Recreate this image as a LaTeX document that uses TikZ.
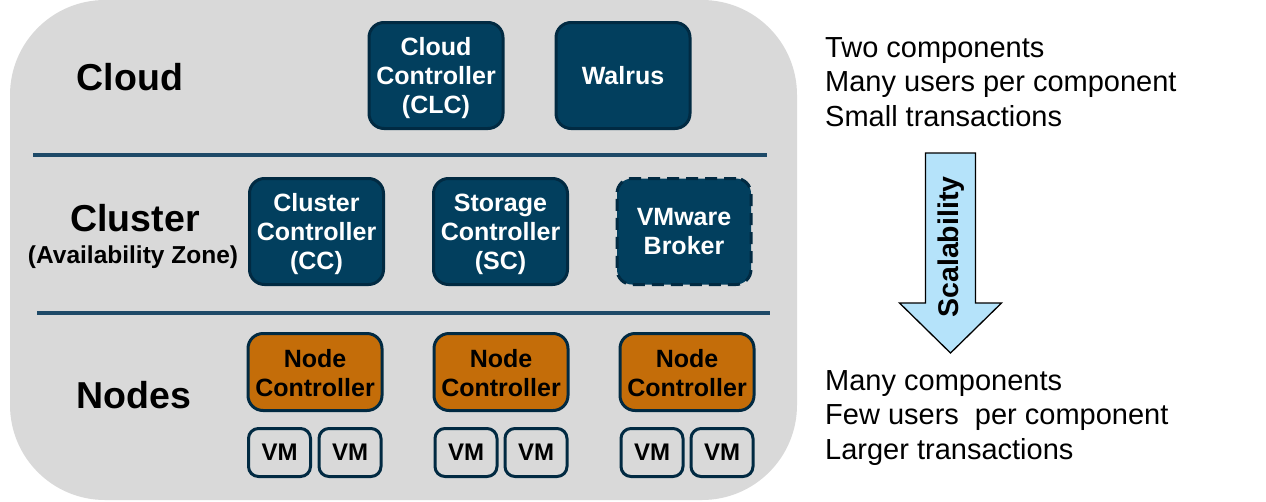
\documentclass[tikz,border=0pt]{standalone}
\usepackage{fontspec}
\setmainfont{Liberation Sans}
\definecolor{bg}{HTML}{D9D9D9}
\definecolor{boxfill}{HTML}{023F5E}
\definecolor{boxline}{HTML}{012A42}
\definecolor{divider}{HTML}{1E4A68}
\definecolor{ncfill}{HTML}{C46D09}
\definecolor{arrowfill}{HTML}{B5E3FA}
\newcommand{\padtop}[1]{\rule{0pt}{#1}}
\tikzset{
  comp/.style={draw=boxline, fill=boxfill, line width=3pt, rounded corners=15pt,
    minimum width=134pt, minimum height=106pt, inner sep=0pt, align=center,
    text=white, font=\fontsize{25}{29}\selectfont\bfseries},
  ncbox/.style={comp, fill=ncfill, text=black, minimum height=77pt},
  vmbox/.style={draw=boxline, fill=bg, line width=3pt, rounded corners=10pt,
    minimum width=62pt, minimum height=48pt, inner sep=0pt,
    font=\fontsize{24}{29}\selectfont\bfseries},
  tier/.style={font=\fontsize{37.5}{40}\selectfont\bfseries, anchor=base},
  note/.style={font=\fontsize{29}{32}\selectfont, anchor=base west, inner sep=0pt},
  divline/.style={draw=divider, line width=3.5pt}
}
\begin{document}
\begin{tikzpicture}[x=1pt,y=-1pt]
\useasboundingbox (0,0) rectangle (1266,501);
\fill[bg, rounded corners=95pt] (10,0) rectangle (797,500);
% tier labels
\node[tier] (lcloud) at (130,90) {Cloud};
\node[tier] (lcluster) at (135,231) {Cluster};
\node[font=\fontsize{24.5}{28}\selectfont\bfseries, anchor=base] (laz) at (133,263) {(Availability Zone)};
\node[tier] (lnodes) at (134,408) {Nodes};
% dividers
\coordinate (d1a) at (33,155); \coordinate (d1b) at (767,155);
\coordinate (d2a) at (37,313); \coordinate (d2b) at (770,313);
\draw[divline] (d1a) -- (d1b);
\draw[divline] (d2a) -- (d2b);
% cloud tier
\node[comp] (clc) at (436,75.5) {\padtop{24pt}Cloud\\Controller\\(CLC)};
\node[comp] (walrus) at (623,75.5) {Walrus};
% cluster tier
\node[comp] (cc) at (316.5,231.5) {\padtop{24pt}Cluster\\Controller\\(CC)};
\node[comp] (sc) at (500.5,231.5) {\padtop{24pt}Storage\\Controller\\(SC)};
\node[comp, dashed, dash pattern=on 12pt off 7pt] (vmb) at (684,231.5) {VMware\\Broker};
% nodes tier
\node[ncbox] (nc1) at (315,372) {\padtop{21pt}Node\\Controller};
\node[ncbox] (nc2) at (501,372) {\padtop{21pt}Node\\Controller};
\node[ncbox] (nc3) at (687,372) {\padtop{21pt}Node\\Controller};
\node[vmbox] (vm1) at (279.5,452.5) {VM};
\node[vmbox] (vm2) at (350,452.5) {VM};
\node[vmbox] (vm3) at (466,452.5) {VM};
\node[vmbox] (vm4) at (536,452.5) {VM};
\node[vmbox] (vm5) at (652,452.5) {VM};
\node[vmbox] (vm6) at (722,452.5) {VM};
% right notes
\node[note] (t1) at (825,57) {Two components};
\node[note] (t2) at (825,91) {Many users per component};
\node[note] (t3) at (825,126) {Small transactions};
\node[note] (b1) at (825,390) {Many components};
\node[note] (b2) at (825,424) {Few users\hspace{8pt} per component};
\node[note] (b3) at (825,459) {Larger transactions};
% scalability arrow
\draw[fill=arrowfill, line width=1.3pt, line join=miter]
  (925.5,153) -- (975.5,153) -- (975.5,303) -- (1001.5,303) -- (950.5,353)
  -- (899.5,303) -- (925.5,303) -- cycle;
\node[rotate=90, font=\fontsize{28.5}{32}\selectfont\bfseries] (scal) at (951,247) {Scalability};
\end{tikzpicture}
\end{document}
